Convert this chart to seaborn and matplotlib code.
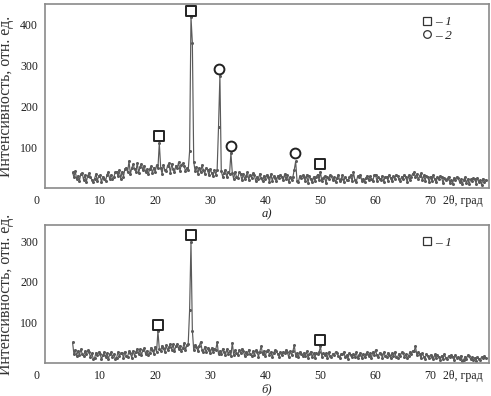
import numpy as np
import pandas as pd
import matplotlib
matplotlib.use("Agg")
import matplotlib.pyplot as plt
import matplotlib.transforms as mtransforms
from matplotlib.lines import Line2D
import seaborn as sns

# ---------------- data ----------------
theta_start, theta_step = 5.0, 0.25

intensity_a = [
    38, 27, 41, 21,  30, 18, 34, 37,  20, 31, 15, 30,  36, 27, 20, 15,  23, 34, 17, 30,   # 5-9
    31, 14, 28, 21,  17, 33, 38, 21,  32, 22, 27, 38,  40, 29, 43, 23,  40, 28, 47, 50,   # 10-14
    39, 66, 34, 49,  58, 47, 40, 61,  36, 52, 59, 43,  55, 38, 46, 34,  46, 53, 36, 50,   # 15-19
    39, 56, 48, 110, 50, 35, 57, 44,  41, 55, 60, 37,  59, 46, 38, 55,  48, 63, 42, 57,   # 20-24
    60, 55, 41, 49,  44, 90, 418, 355, 64, 41, 52, 35, 50, 38, 56, 43,  35, 49, 44, 31,   # 25-29
    47, 36, 29, 44,  33, 45, 150, 275, 41, 28, 37, 45, 26, 39, 35, 85,  37, 22, 40, 28,   # 30-34
    25, 38, 34, 19,  35, 21, 30, 38,  20, 33, 25, 36,  31, 17, 28, 22,  35, 24, 16, 30,   # 35-39
    21, 32, 27, 15,  34, 18, 29, 24,  16, 30, 25, 33,  28, 19, 34, 21,  31, 14, 26, 20,   # 40-44
    27, 45, 65, 18,  15, 29, 24, 31,  26, 17, 32, 13,  30, 21, 14, 27,  18, 28, 33, 20,   # 45-49
    40, 16, 25, 29,  12, 27, 21, 31,  29, 19, 26, 14,  24, 33, 17, 22,  31, 15, 28, 20,   # 50-54
    19, 26, 32, 16,  38, 20, 14, 29,  27, 33, 18, 23,  14, 25, 30, 19,  29, 21, 16, 31,   # 55-59
    33, 17, 26, 22,  20, 30, 15, 28,  27, 18, 32, 24,  16, 29, 23, 33,  30, 21, 17, 28,   # 60-64
    22, 33, 26, 15,  31, 19, 28, 35,  38, 26, 34, 21,  29, 36, 19, 31,  18, 30, 26, 15,   # 65-69
    28, 17, 31, 21,  14, 27, 22, 29,  26, 12, 24, 19,  22, 28, 13, 20,  11, 25, 19, 27,   # 70-74
    24, 15, 21, 10,  20, 26, 12, 22,  9, 21, 18, 24,  22, 11, 25, 15,  19, 8, 23, 14,   # 75-79
    20,
]

intensity_b = [
    51, 22, 33, 18,  30, 19, 34, 23,  17, 29, 21, 31,  27, 14, 24, 11,  12, 25, 20, 27,   # 5-9
    23, 9, 19, 26,  14, 24, 10, 21,  26, 15, 22, 11,  13, 27, 18, 24,  25, 12, 28, 17,   # 10-14
    16, 29, 24, 13,  30, 18, 27, 35,  21, 34, 19, 31,  36, 23, 30, 20,  25, 38, 33, 22,   # 15-19
    40, 27, 78, 35,  29, 43, 38, 26,  44, 31, 39, 47,  33, 46, 29, 41,  47, 35, 43, 30,   # 20-24
    36, 49, 32, 44,  48, 130, 298, 80, 31, 45, 40, 29, 42, 52, 33, 27,  40, 26, 37, 31,   # 25-29
    24, 37, 28, 35,  33, 51, 22, 30,  21, 35, 27, 19,  34, 23, 30, 18,  50, 20, 31, 25,   # 30-34
    19, 32, 24, 35,  30, 17, 28, 22,  33, 21, 18, 29,  20, 31, 26, 16,  28, 41, 22, 30,   # 35-39
    17, 29, 33, 20,  27, 15, 25, 31,  30, 22, 16, 26,  19, 28, 24, 32,  26, 14, 29, 20,   # 40-44
    29, 44, 18, 25,  14, 27, 23, 18,  25, 17, 29, 13,  22, 28, 15, 24,  13, 25, 21, 27,   # 45-49
    41, 16, 24, 19,  24, 12, 26, 17,  15, 23, 20, 27,  25, 17, 12, 22,  21, 27, 14, 19,   # 50-54
    11, 24, 20, 15,  23, 16, 26, 12,  19, 25, 13, 22,  14, 21, 26, 18,  24, 12, 27, 20,   # 55-59
    32, 19, 15, 25,  22, 13, 26, 18,  16, 25, 20, 12,  24, 17, 27, 14,  13, 23, 18, 26,   # 60-64
    25, 15, 21, 12,  18, 27, 22, 30,  29, 41, 20, 26,  21, 12, 24, 16,  11, 22, 18, 13,   # 65-69
    20, 14, 9, 21,  12, 19, 16, 8,  18, 10, 21, 13,  9, 17, 14, 20,  16, 7, 19, 12,   # 70-74
    15, 10, 18, 6,  8, 16, 11, 19,  17, 9, 14, 7,  13, 6, 16, 10,  7, 15, 12, 17,   # 75-79
    13,
]

two_theta_a = theta_start + theta_step * np.arange(len(intensity_a))
two_theta_b = theta_start + theta_step * np.arange(len(intensity_b))

# phase markers: (2theta, height)
phase1_a_x = [20.7, 26.5, 50.0]
phase1_a_y = [127, 434, 58]
phase2_a_x = [31.6, 33.7, 45.3]
phase2_a_y = [292, 102, 85]
phase1_b_x = [20.5, 26.5, 50.0]
phase1_b_y = [93, 315, 56]

x_ticks = [0, 10, 20, 30, 40, 50, 60, 70]
y_ticks_a = [100, 200, 300, 400]
y_ticks_b = [100, 200, 300]

# ---------------- style ----------------
sns.set_theme(style="white")
plt.rcParams["font.family"] = ["Liberation Serif", "DejaVu Serif"]

W, H = 491, 396
fig = plt.figure(figsize=(W / 100, H / 100), dpi=100)

def box(l, t, r, b):
    return [l / W, 1 - b / H, (r - l) / W, (b - t) / H]

ax_a = fig.add_axes(box(45, 4, 489, 188))
ax_b = fig.add_axes(box(45, 225, 489, 363))

line_col = "#5a5a5a"
frame_col = "#8a8a8a"
fs = 8.6

def draw(ax, x, y, ylim, yticks, p1x, p1y, p2x, p2y, tag, legend_items):
    df = pd.DataFrame({"t": x, "i": y})
    sns.lineplot(data=df, x="t", y="i", ax=ax, color=line_col, linewidth=0.85,
                 marker="o", markersize=2.2, markeredgewidth=0, estimator=None,
                 sort=False)
    ax.scatter(p1x, p1y, marker="s", s=44, facecolor="white", edgecolor="#222222",
               linewidth=1.4, zorder=5)
    if p2x:
        ax.scatter(p2x, p2y, marker="o", s=50, facecolor="white", edgecolor="#222222",
                   linewidth=1.4, zorder=5)
    ax.set_xlim(0, 80.6)
    ax.set_ylim(0, ylim)
    ax.set_xticks(x_ticks)
    ax.set_xticklabels([str(v) for v in x_ticks])
    ax.set_yticks(yticks)
    ax.set_yticklabels([str(v) for v in yticks])
    ax.tick_params(axis="both", direction="in", length=3, width=0.8, color=frame_col,
                   labelsize=fs, labelcolor="#222222")
    ax.tick_params(axis="x", pad=5)
    ax.tick_params(axis="y", pad=5)
    for s in ax.spines.values():
        s.set_color(frame_col)
        s.set_linewidth(1.2)
    # shift "0" label to the corner
    lab0 = ax.get_xticklabels()[0]
    lab0.set_transform(lab0.get_transform() +
                       mtransforms.ScaledTranslation(-6 / 72, 0, fig.dpi_scale_trans))
    ax.xaxis.get_major_ticks()[0].tick1line.set_visible(False)
    ax.set_xlabel(tag, fontsize=fs + 0.5, style="italic", labelpad=1, color="#222222")
    ax.set_ylabel("Интенсивность, отн. ед.", fontsize=11.4, labelpad=4, color="#333333")
    ax.annotate("2θ, град", xy=(72.3, 0), xycoords=("data", "axes fraction"),
                xytext=(0, -5), textcoords="offset points", va="top", ha="left",
                fontsize=fs, color="#222222")
    handles = []
    for mk, lab in legend_items:
        handles.append(Line2D([], [], linestyle="none", marker=mk, markersize=5.5,
                              markerfacecolor="white", markeredgecolor="#333333",
                              markeredgewidth=0.9, label=lab))
    ax.legend(handles=handles, loc="upper left", bbox_to_anchor=(0.83, 0.985),
              frameon=False, handlelength=0.6, handletextpad=0.3,
              labelspacing=0.1, borderpad=0.2, labelcolor="#222222",
              prop={"size": fs + 1, "style": "italic"})

draw(ax_a, two_theta_a, intensity_a, 450, y_ticks_a, phase1_a_x, phase1_a_y,
     phase2_a_x, phase2_a_y, "а)", [("s", "– 1"), ("o", "– 2")])
draw(ax_b, two_theta_b, intensity_b, 340, y_ticks_b, phase1_b_x, phase1_b_y,
     [], [], "б)", [("s", "– 1")])

fig.savefig("out.png", dpi=100)
